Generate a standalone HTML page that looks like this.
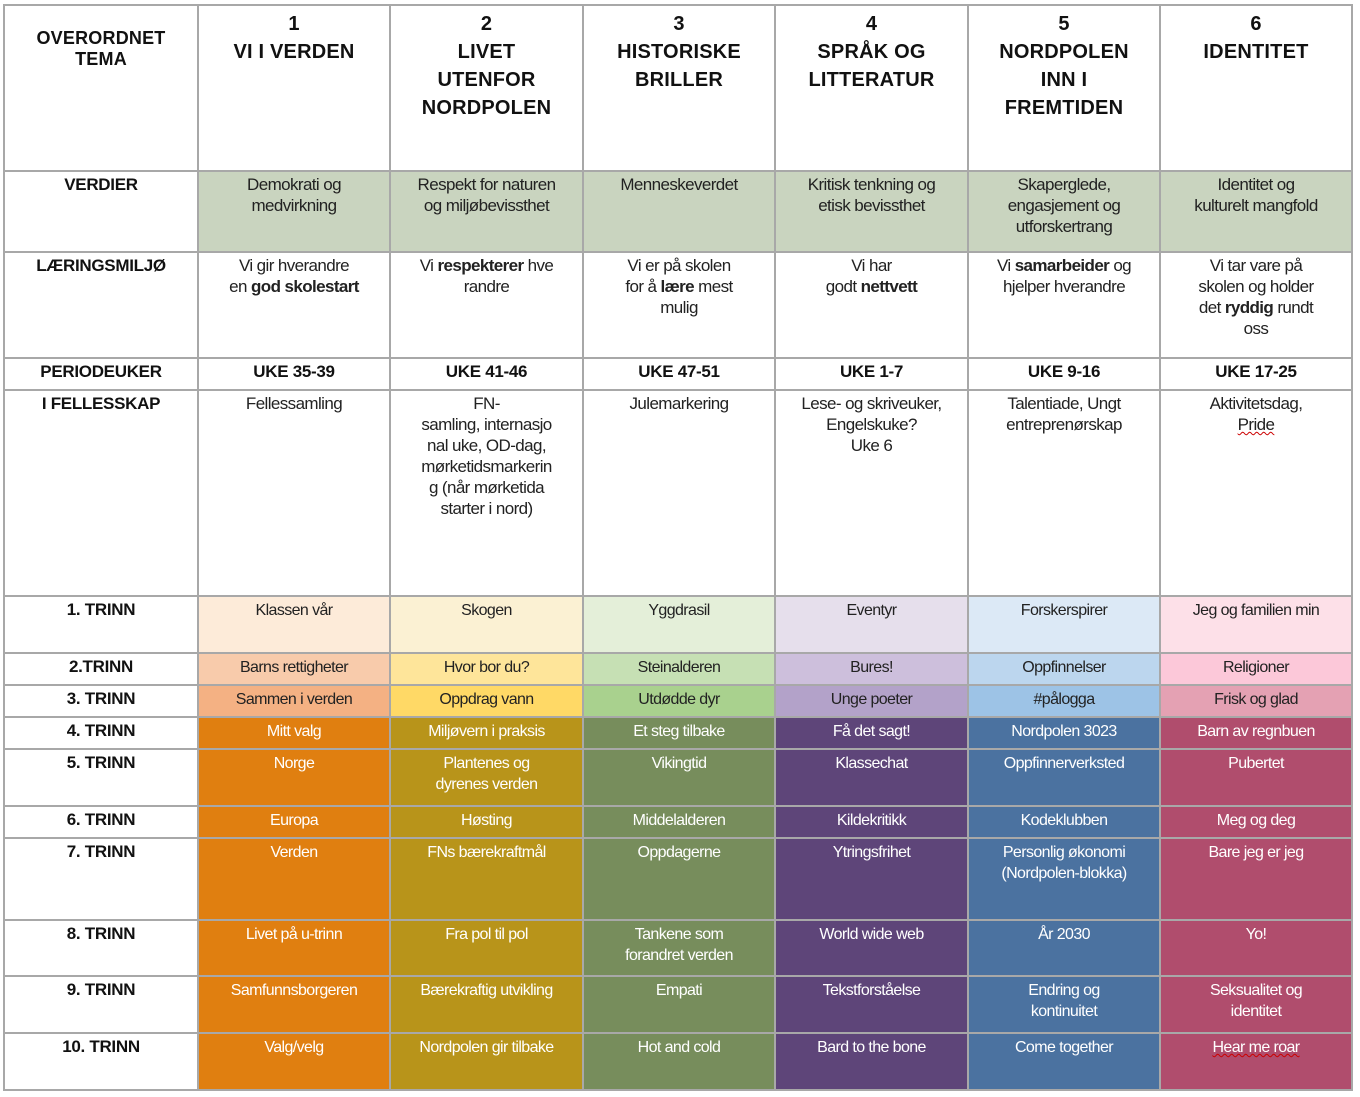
<!DOCTYPE html>
<html><head><meta charset="utf-8"><style>
body{margin:0;background:#fff;width:1360px;height:1097px;overflow:hidden}
table{position:absolute;left:3px;top:4px;border-collapse:collapse;table-layout:fixed;font-family:"Liberation Sans",sans-serif}
td{border:2px solid #a8a8a8;vertical-align:top;text-align:center;padding:2px 3px 0;overflow:hidden;color:#222;font-size:17px;letter-spacing:-0.6px;line-height:21px}
td.h{font-weight:bold;font-size:20px;letter-spacing:0.2px;line-height:28px;color:#111;padding-top:4px}
td.l{font-weight:bold;font-size:17px;letter-spacing:-0.3px;color:#111}
td.t{font-size:16px;letter-spacing:-0.6px;line-height:21px;padding-top:3px}
.g{background:#c9d4bf}
.c1a{background:#fdebd9}.c2a{background:#fbf1d3}.c3a{background:#e4efd9}.c4a{background:#e6dfec}.c5a{background:#dce9f6}.c6a{background:#fde0e8}
.c1b{background:#f8cbab}.c2b{background:#fee59a}.c3b{background:#c6e0b4}.c4b{background:#cdbfdc}.c5b{background:#bcd6ee}.c6b{background:#fcc8d9}
.c1c{background:#f4b183}.c2c{background:#ffd966}.c3c{background:#a9d18e}.c4c{background:#b3a2c9}.c5c{background:#9dc3e6}.c6c{background:#e4a1b3}
.c1{background:#e07f10;color:#fff}.c2{background:#b8941a;color:#fff}.c3{background:#778d5c;color:#fff}.c4{background:#5e4579;color:#fff}.c5{background:#4b72a0;color:#fff}.c6{background:#b04d6d;color:#fff}
u{text-decoration:underline wavy #c00;text-decoration-thickness:1px}
</style></head><body>
<table>
<colgroup><col style="width:194px"><col style="width:192px"><col style="width:193px"><col style="width:192px"><col style="width:193px"><col style="width:192px"><col style="width:192px"></colgroup>
<tr style="height:166px"><td class="h" style="font-size:18px;line-height:21px;padding-top:22px">OVERORDNET<br>TEMA</td><td class="h">1<br>VI I VERDEN</td><td class="h">2<br>LIVET<br>UTENFOR<br>NORDPOLEN</td><td class="h">3<br>HISTORISKE<br>BRILLER</td><td class="h">4<br>SPRÅK OG<br>LITTERATUR</td><td class="h">5<br>NORDPOLEN<br>INN I<br>FREMTIDEN</td><td class="h">6<br>IDENTITET</td></tr>
<tr style="height:81px"><td class="l">VERDIER</td><td class="g">Demokrati og<br>medvirkning</td><td class="g">Respekt for naturen<br>og miljøbevissthet</td><td class="g">Menneskeverdet</td><td class="g">Kritisk tenkning og<br>etisk bevissthet</td><td class="g">Skaperglede,<br>engasjement og<br>utforskertrang</td><td class="g">Identitet og<br>kulturelt mangfold</td></tr>
<tr style="height:106px"><td class="l">LÆRINGSMILJØ</td><td>Vi gir hverandre<br>en <b>god skolestart</b></td><td>Vi <b>respekterer</b> hve<br>randre</td><td>Vi er på skolen<br>for å <b>lære</b> mest<br>mulig</td><td>Vi har<br>godt <b>nettvett</b></td><td>Vi <b>samarbeider</b> og<br>hjelper hverandre</td><td>Vi tar vare på<br>skolen og holder<br>det <b>ryddig</b> rundt<br>oss</td></tr>
<tr style="height:32px"><td class="l">PERIODEUKER</td><td class="l">UKE 35-39</td><td class="l">UKE 41-46</td><td class="l">UKE 47-51</td><td class="l">UKE 1-7</td><td class="l">UKE 9-16</td><td class="l">UKE 17-25</td></tr>
<tr style="height:206px"><td class="l">I FELLESSKAP</td><td>Fellessamling</td><td>FN-<br>samling, internasjo<br>nal uke, OD-dag,<br>mørketidsmarkerin<br>g (når mørketida<br>starter i nord)</td><td>Julemarkering</td><td>Lese- og skriveuker,<br>Engelskuke?<br>Uke 6</td><td>Talentiade, Ungt<br>entreprenørskap</td><td>Aktivitetsdag,<br><u>Pride</u></td></tr>
<tr style="height:57px"><td class="l">1. TRINN</td><td class="t c1a">Klassen vår</td><td class="t c2a">Skogen</td><td class="t c3a">Yggdrasil</td><td class="t c4a">Eventyr</td><td class="t c5a">Forskerspirer</td><td class="t c6a">Jeg og familien min</td></tr>
<tr style="height:32px"><td class="l">2.TRINN</td><td class="t c1b">Barns rettigheter</td><td class="t c2b">Hvor bor du?</td><td class="t c3b">Steinalderen</td><td class="t c4b">Bures!</td><td class="t c5b">Oppfinnelser</td><td class="t c6b">Religioner</td></tr>
<tr style="height:32px"><td class="l">3. TRINN</td><td class="t c1c">Sammen i verden</td><td class="t c2c">Oppdrag vann</td><td class="t c3c">Utdødde dyr</td><td class="t c4c">Unge poeter</td><td class="t c5c">#pålogga</td><td class="t c6c">Frisk og glad</td></tr>
<tr style="height:32px"><td class="l">4. TRINN</td><td class="t c1">Mitt valg</td><td class="t c2">Miljøvern i praksis</td><td class="t c3">Et steg tilbake</td><td class="t c4">Få det sagt!</td><td class="t c5">Nordpolen 3023</td><td class="t c6">Barn av regnbuen</td></tr>
<tr style="height:57px"><td class="l">5. TRINN</td><td class="t c1">Norge</td><td class="t c2">Plantenes og<br>dyrenes verden</td><td class="t c3">Vikingtid</td><td class="t c4">Klassechat</td><td class="t c5">Oppfinnerverksted</td><td class="t c6">Pubertet</td></tr>
<tr style="height:32px"><td class="l">6. TRINN</td><td class="t c1">Europa</td><td class="t c2">Høsting</td><td class="t c3">Middelalderen</td><td class="t c4">Kildekritikk</td><td class="t c5">Kodeklubben</td><td class="t c6">Meg og deg</td></tr>
<tr style="height:82px"><td class="l">7. TRINN</td><td class="t c1">Verden</td><td class="t c2">FNs bærekraftmål</td><td class="t c3">Oppdagerne</td><td class="t c4">Ytringsfrihet</td><td class="t c5">Personlig økonomi<br>(Nordpolen-blokka)</td><td class="t c6">Bare jeg er jeg</td></tr>
<tr style="height:56px"><td class="l">8. TRINN</td><td class="t c1">Livet på u-trinn</td><td class="t c2">Fra pol til pol</td><td class="t c3">Tankene som<br>forandret verden</td><td class="t c4">World wide web</td><td class="t c5">År 2030</td><td class="t c6">Yo!</td></tr>
<tr style="height:57px"><td class="l">9. TRINN</td><td class="t c1">Samfunnsborgeren</td><td class="t c2">Bærekraftig utvikling</td><td class="t c3">Empati</td><td class="t c4">Tekstforståelse</td><td class="t c5">Endring og<br>kontinuitet</td><td class="t c6">Seksualitet og<br>identitet</td></tr>
<tr style="height:57px"><td class="l">10. TRINN</td><td class="t c1">Valg/velg</td><td class="t c2">Nordpolen gir tilbake</td><td class="t c3">Hot and cold</td><td class="t c4">Bard to the bone</td><td class="t c5">Come together</td><td class="t c6"><u>Hear me roar</u></td></tr>
</table>
</body></html>
